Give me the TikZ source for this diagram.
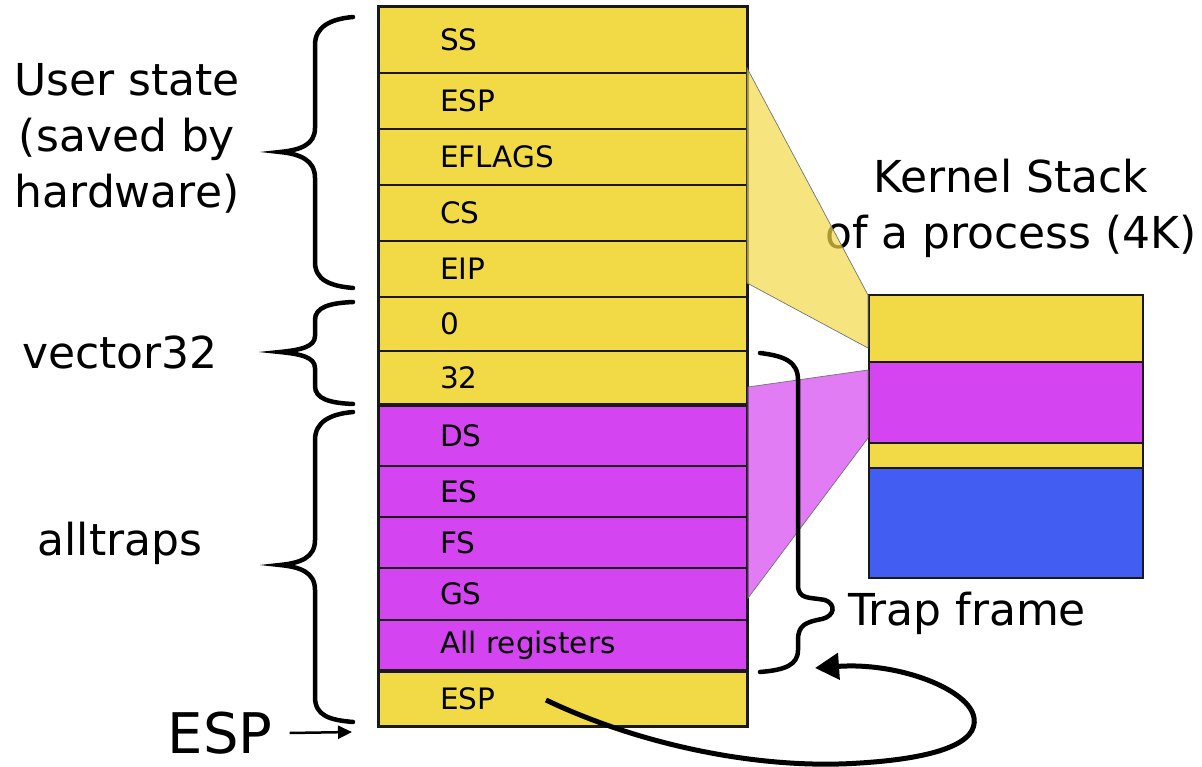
\documentclass[tikz,border=0pt]{standalone}
\usepackage{fontspec}
\setmainfont{DejaVu Sans}
\usetikzlibrary{arrows.meta}
\definecolor{yel}{HTML}{F2DA47}
\definecolor{mag}{HTML}{D444F0}
\definecolor{blu}{HTML}{425EF2}
\begin{document}
\begin{tikzpicture}[x=1pt,y=-1pt,
  cell/.style={draw=black!90, line width=1.2pt, minimum width=368pt, text width=246pt,
    inner xsep=61pt, inner ysep=0pt, align=left, font=\fontsize{29.5}{31}\selectfont, anchor=center},
  big/.style={font=\fontsize{44}{56}\selectfont, align=center, inner sep=0pt},
  frame/.style={draw=black!90, line width=2.5pt},
  brace/.style={line width=4.5pt, line cap=round},
  wedge/.style={draw=black!55, line width=0.7pt, fill opacity=0.7}]
\useasboundingbox (0,0) rectangle (1202,767);
% labels
\node[big] (user) at (127,138) {User state\\(saved by\\hardware)};
\node[big] (kern) at (1011,208) {Kernel Stack\\of a process (4K)};
\node[big] (vec) at (120,352) {vector32};
\node[big] (allt) at (120,543) {alltraps};
\node[big, anchor=west] (trap) at (848,613) {Trap frame};
\node[font=\fontsize{56}{60}\selectfont, inner sep=0pt] (espL) at (220,733) {ESP};
% left stack
\node[cell, fill=yel, minimum height=66pt] (ss) at (563,40) {SS};
\node[cell, fill=yel, minimum height=56pt] (esp1) at (563,101) {ESP};
\node[cell, fill=yel, minimum height=56pt] (efl) at (563,157) {EFLAGS};
\node[cell, fill=yel, minimum height=56pt] (cs) at (563,213) {CS};
\node[cell, fill=yel, minimum height=56pt] (eip) at (563,269) {EIP};
\node[cell, fill=yel, minimum height=54pt] (zero) at (563,324) {0};
\node[cell, fill=yel, minimum height=54pt] (v32) at (563,378) {32};
\node[cell, fill=mag, minimum height=61pt] (ds) at (563,435.5) {DS};
\node[cell, fill=mag, minimum height=51pt] (es) at (563,491.5) {ES};
\node[cell, fill=mag, minimum height=51pt] (fs) at (563,542.5) {FS};
\node[cell, fill=mag, minimum height=52pt] (gs) at (563,594) {GS};
\node[cell, fill=mag, minimum height=51pt] (allr) at (563,645.5) {All registers};
\node[cell, fill=yel, minimum height=55pt] (esp2) at (563,698.5) {ESP};
\draw[frame] (ss.north west) rectangle (v32.south east);
\draw[frame] (ds.north west) rectangle (allr.south east);
\draw[frame] (esp2.north west) rectangle (esp2.south east);
% right stack
\node[frame, fill=yel, minimum width=274pt, minimum height=67pt, inner sep=0pt] (k1) at (1006,328.5) {};
\node[frame, fill=mag, minimum width=274pt, minimum height=81pt, inner sep=0pt] (k2) at (1006,402.5) {};
\node[frame, fill=yel, minimum width=274pt, minimum height=25pt, inner sep=0pt] (k3) at (1006,455.5) {};
\node[frame, fill=blu, minimum width=274pt, minimum height=110pt, inner sep=0pt] (k4) at (1006,523) {};
% wedges
\filldraw[wedge, fill=yel] (747,68) -- (868,295) -- (868,348) -- (747,283) -- cycle;
\filldraw[wedge, fill=mag] (748,387) -- (868,370) -- (868,438) -- (748,598) -- cycle;
% braces
\draw[brace] (353,17) .. controls (330,19) and (315,27) .. (315,45) -- (315,128)
  .. controls (315,145) and (300,150) .. (280,152) .. controls (300,154) and (315,160) .. (315,178)
  -- (315,262) .. controls (315,280) and (330,286) .. (353,288);
\draw[brace] (353,302) .. controls (330,303) and (315,307) .. (315,320) -- (315,336)
  .. controls (315,347) and (300,350) .. (280,352) .. controls (300,354) and (315,357) .. (315,368)
  -- (315,386) .. controls (315,399) and (330,403) .. (353,404);
\draw[brace] (353,412) .. controls (330,414) and (315,422) .. (315,440) -- (315,540)
  .. controls (315,558) and (300,563) .. (280,565) .. controls (300,567) and (315,572) .. (315,590)
  -- (315,697) .. controls (315,716) and (330,720) .. (353,722);
\draw[brace] (760,353) .. controls (785,356) and (798,362) .. (798,380) -- (798,585)
  .. controls (798,600) and (810,597) .. (825,600) .. controls (836,604) and (835,616) .. (822,619)
  .. controls (806,622) and (798,625) .. (798,640) -- (798,650)
  .. controls (798,665) and (785,670) .. (760,672);
% arrows
\coordinate (espP) at (352,732);
\draw[line width=2.5pt, -{Triangle[length=14pt,width=13pt]}] ([xshift=17pt]espL.east) -- (espP);
\coordinate (espS) at (546,700);
\coordinate (tfB) at (815,668);
\draw[line width=5pt, -{Triangle[length=24pt,width=26pt]}] (espS)
  .. controls (640,745) and (760,770) .. (860,763)
  .. controls (940,758) and (978,742) .. (974,718)
  .. controls (970,690) and (900,662) .. (tfB);
\end{tikzpicture}
\end{document}
